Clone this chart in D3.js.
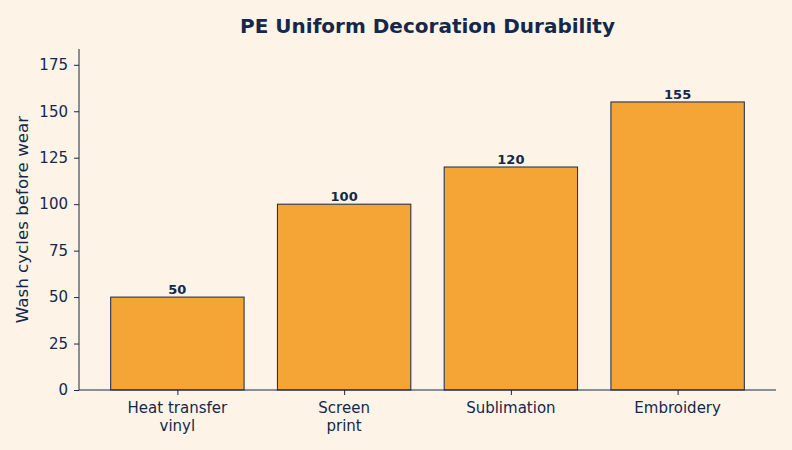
<!DOCTYPE html>
<html>
<head>
    <title>PE Uniform Decoration Durability</title>
    <script src="https://d3js.org/d3.v7.min.js"></script>
    <style>
        body {
            margin: 0;
            background: #fdf4e7;
            font-family: "DejaVu Sans", sans-serif;
        }
        text {
            fill: #14284b;
        }
    </style>
</head>
<body>
<div id="chart"></div>
<script>
    const categories = ["Heat transfer\nvinyl", "Screen\nprint", "Sublimation", "Embroidery"];
    const washCycles = [50, 100, 120, 155];
    const yTicks = [0, 25, 50, 75, 100, 125, 150, 175];

    const width = 792, height = 450;
    const margin = { top: 49, right: 16, bottom: 60, left: 79 };
    const innerW = width - margin.left - margin.right;
    const innerH = height - margin.top - margin.bottom;
    const ink = "#14284b";

    const svg = d3.select("#chart")
        .append("svg")
        .attr("width", width)
        .attr("height", height);

    svg.append("rect")
        .attr("width", width)
        .attr("height", height)
        .attr("fill", "#fdf4e7");

    const g = svg.append("g")
        .attr("transform", `translate(${margin.left},${margin.top})`);

    // matplotlib-like band layout: bars 0.8 wide, 5% margins
    const x = d3.scaleLinear()
        .domain([-0.59, categories.length - 1 + 0.59])
        .range([0, innerW]);
    const barW = x(0.4) - x(-0.4);

    const y = d3.scaleLinear()
        .domain([0, 183.5])
        .range([innerH, 0]);

    g.selectAll("rect.bar")
        .data(washCycles)
        .enter()
        .append("rect")
        .attr("class", "bar")
        .attr("x", (d, i) => x(i) - barW / 2)
        .attr("y", d => y(d))
        .attr("width", barW)
        .attr("height", d => innerH - y(d))
        .attr("fill", "#f5a535")
        .attr("stroke", ink)
        .attr("stroke-width", 1);

    g.selectAll("text.value")
        .data(washCycles)
        .enter()
        .append("text")
        .attr("class", "value")
        .attr("x", (d, i) => x(i))
        .attr("y", d => y(d) - 3)
        .attr("text-anchor", "middle")
        .style("font-size", "13px")
        .style("font-weight", "bold")
        .text(d => d);

    // y axis
    const yAxis = g.append("g")
        .call(d3.axisLeft(y).tickValues(yTicks).tickSize(5).tickPadding(6));
    yAxis.select(".domain").attr("stroke", ink).attr("d", `M0,${innerH}V0`);
    yAxis.selectAll(".tick line").attr("stroke", ink);
    yAxis.selectAll(".tick text")
        .style("font-size", "15px")
        .style("font-family", "DejaVu Sans")
        .attr("fill", ink);

    // x axis
    const xAxis = g.append("g")
        .attr("transform", `translate(0,${innerH})`)
        .call(d3.axisBottom(x).tickValues(d3.range(categories.length)).tickSize(5).tickFormat(""));
    xAxis.select(".domain").attr("stroke", ink).attr("d", `M0,0H${innerW}`);
    xAxis.selectAll(".tick line").attr("stroke", ink);

    g.selectAll("text.cat")
        .data(categories)
        .enter()
        .append("text")
        .attr("class", "cat")
        .attr("text-anchor", "middle")
        .style("font-size", "15px")
        .each(function (d, i) {
            const lines = d.split("\n");
            d3.select(this).selectAll("tspan")
                .data(lines)
                .enter()
                .append("tspan")
                .attr("x", x(i))
                .attr("y", (l, k) => innerH + 23 + k * 18)
                .text(l => l);
        });

    // y label
    svg.append("text")
        .attr("transform", `translate(28,${margin.top + innerH / 2}) rotate(-90)`)
        .attr("text-anchor", "middle")
        .style("font-size", "16.7px")
        .text("Wash cycles before wear");

    // title
    svg.append("text")
        .attr("x", margin.left + innerW / 2)
        .attr("y", 33)
        .attr("text-anchor", "middle")
        .style("font-size", "20px")
        .style("font-weight", "bold")
        .text("PE Uniform Decoration Durability");
</script>
</body>
</html>
